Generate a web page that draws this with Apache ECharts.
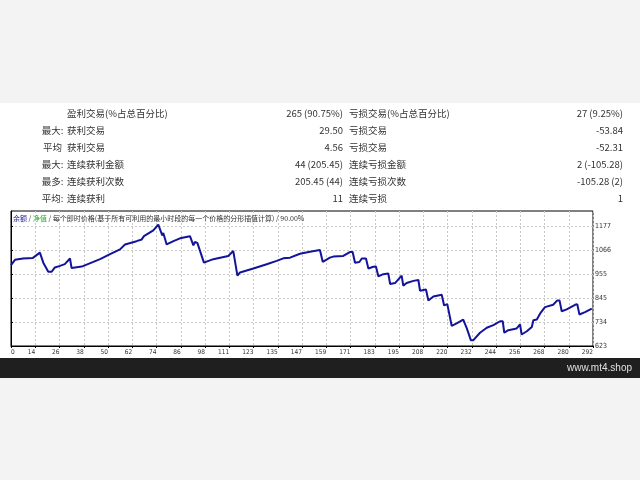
<!DOCTYPE html>
<html>
<head>
<meta charset="utf-8">
<script src="https://cdn.jsdelivr.net/npm/echarts@6/dist/echarts.min.js"></script>
<style>html,body{margin:0;padding:0;background:#f3f3f3;}#c{width:640px;height:480px;}</style>
</head>
<body>
<div id="c"></div>
<script>
// ---- data ----
var prefixes = ['', '最大:', '平均', '最大:', '最多:', '平均:'];
var leftLabels = ['盈利交易(%占总百分比)', '获利交易', '获利交易', '连续获利金额', '连续获利次数', '连续获利'];
var leftValues = ['265 (90.75%)', '29.50', '4.56', '44 (205.45)', '205.45 (44)', '11'];
var rightLabels = ['亏损交易(%占总百分比)', '亏损交易', '亏损交易', '连续亏损金额', '连续亏损次数', '连续亏损'];
var rightValues = ['27 (9.25%)', '-53.84', '-52.31', '2 (-105.28)', '-105.28 (2)', '1'];

var xLabels = ['0','14','26','38','50','62','74','86','98','111','123','135','147','159','171','183','195','208','220','232','244','256','268','280','292'];
var yTicks = [623, 734, 845, 955, 1066, 1177];

var tradeNums = [0,2,6,11,14.5,15.4,16.2,17,18.7,20.4,22,24.6,27,29.6,30.4,31.3,35.5,44.7,49.7,54.7,57.2,63,65.6,66.7,71.4,73.9,74.8,75.9,76.4,78.1,81.5,84.8,89.8,90.7,91.5,92.3,93.5,96.8,101.5,109,111.5,113.6,114.9,121.6,128.3,133.3,136.6,140,145,150,155,156.4,160,161.7,166.7,170,171.4,172.6,174.8,176,178.1,179.3,181.8,183.1,184.3,186.8,189.3,190.2,192.7,196,196.8,198.5,201.9,204.4,205.2,208.2,209.4,211.9,216.1,217.3,218.9,221.1,223.6,226.9,228.7,230.7,232,235.3,238.7,242,245.4,246.7,247.5,249.5,253.7,255.4,256.2,258.8,261.3,262.1,263.8,265.8,267.9,272,274.1,275.2,276.3,278.8,283,284.1,285.2,288,291.4];
var balances = [996,1020,1026,1029,1053,1053,1007,1010,965,965,985,992,1000,1026,982,980,989,1023,1046,1068,1091,1106,1114,1129,1156,1182,1182,1132,1144,1091,1106,1119,1129,1137,1087,1102,1098,1007,1023,1038,1061,947,962,980,1000,1015,1027,1030,1048,1057,1065,1011,1030,1035,1038,1056,1056,1007,1010,1026,1026,980,988,989,944,954,957,909,913,947,901,913,923,927,878,883,833,851,859,810,816,716,727,745,704,650,650,684,707,719,737,737,684,696,704,722,676,691,711,742,745,777,802,813,833,833,783,792,813,816,768,779,795];

var legendParts = ['余额', '净值', '每个即时价格(基于所有可利用的最小时段的每一个价格的分形插值计算)', '90.00%'];
var siteText = 'www.mt4.shop';

// ---- build ----
var chart = echarts.init(document.getElementById('c'));
var FONT = "'Noto Sans CJK SC','Noto Sans',sans-serif";
var AX = "'DejaVu Sans Condensed','Noto Sans',sans-serif";
var graphics = [
  {type:'rect', shape:{x:0,y:103,width:640,height:255}, style:{fill:'#ffffff'}, silent:true, z:-10},
  {type:'rect', shape:{x:0,y:358,width:640,height:20}, style:{fill:'#1f1f1f'}, silent:true},
  {type:'text', x:632, y:368, style:{text:siteText, fill:'#e0e0e0', font:"10px 'Liberation Sans',Arial,sans-serif", textAlign:'right', textVerticalAlign:'middle'}}
];
var rowY0 = 113, rowH = 17.1;
for (var i = 0; i < prefixes.length; i++) {
  var y = rowY0 + i * rowH;
  var st = function(t, align){ return {text:t, fill:'#333333', font:'9.5px ' + FONT, textAlign:align, textVerticalAlign:'middle'}; };
  graphics.push({type:'text', x:52.5, y:y, style:st(prefixes[i],'center')});
  graphics.push({type:'text', x:67, y:y, style:st(leftLabels[i],'left')});
  graphics.push({type:'text', x:343, y:y, style:st(leftValues[i],'right')});
  graphics.push({type:'text', x:349, y:y, style:st(rightLabels[i],'left')});
  graphics.push({type:'text', x:623, y:y, style:st(rightValues[i],'right')});
}
graphics.push({type:'text', x:13, y:218, z:10, style:{
  text:'{a|' + legendParts[0] + '}{s| / }{b|' + legendParts[1] + '}{s| / }{c|' + legendParts[2] + '}{s| / }{c|' + legendParts[3] + '}',
  textVerticalAlign:'middle',
  rich:{
    a:{fill:'#1a1a9a', font:'7px ' + FONT},
    b:{fill:'#22b022', font:'7px ' + FONT},
    c:{fill:'#333333', font:'7px ' + FONT},
    s:{fill:'#333333', font:'7px ' + FONT}
  }}});

var seriesData = tradeNums.map(function(t, k){ return [t, balances[k]]; });
var dashed = {show:true, lineStyle:{color:'#c8c8c8', type:[2,2], width:1}};

chart.setOption({
  animation:false,
  backgroundColor:'transparent',
  grid:{left:11, top:211, width:582, height:135, show:true, borderColor:'#000', borderWidth:1, backgroundColor:'#fff'},
  xAxis:[
    {type:'category', data:xLabels, boundaryGap:false, gridIndex:0,
     axisLine:{lineStyle:{color:'#000',width:1}},
     axisTick:{show:true, length:2, interval:0, lineStyle:{color:'#000'}},
     axisLabel:{interval:0, align:'right', margin:3, color:'#333', fontSize:6.5, fontFamily:AX, alignMinLabel:'left'},
     splitLine:Object.assign({interval:0}, dashed)},
    {type:'value', min:0, max:292, show:false, splitLine:{show:false}}
  ],
  yAxis:{type:'value', position:'right', min:623, max:1245,
    axisLine:{show:true, lineStyle:{color:'#000',width:1}},
    axisTick:{show:true, length:2, customValues:yTicks, lineStyle:{color:'#000'}},
    axisLabel:{customValues:yTicks, margin:2, color:'#333', fontSize:7, fontFamily:AX,
      formatter:function(v){ return String(Math.round(v)); }},
    splitLine:dashed},
  graphic:graphics,
  series:[{type:'line', xAxisIndex:1, data:seriesData, showSymbol:false, symbol:'none',
    lineStyle:{color:'#14149a', width:2}}]
});
</script>
</body>
</html>
